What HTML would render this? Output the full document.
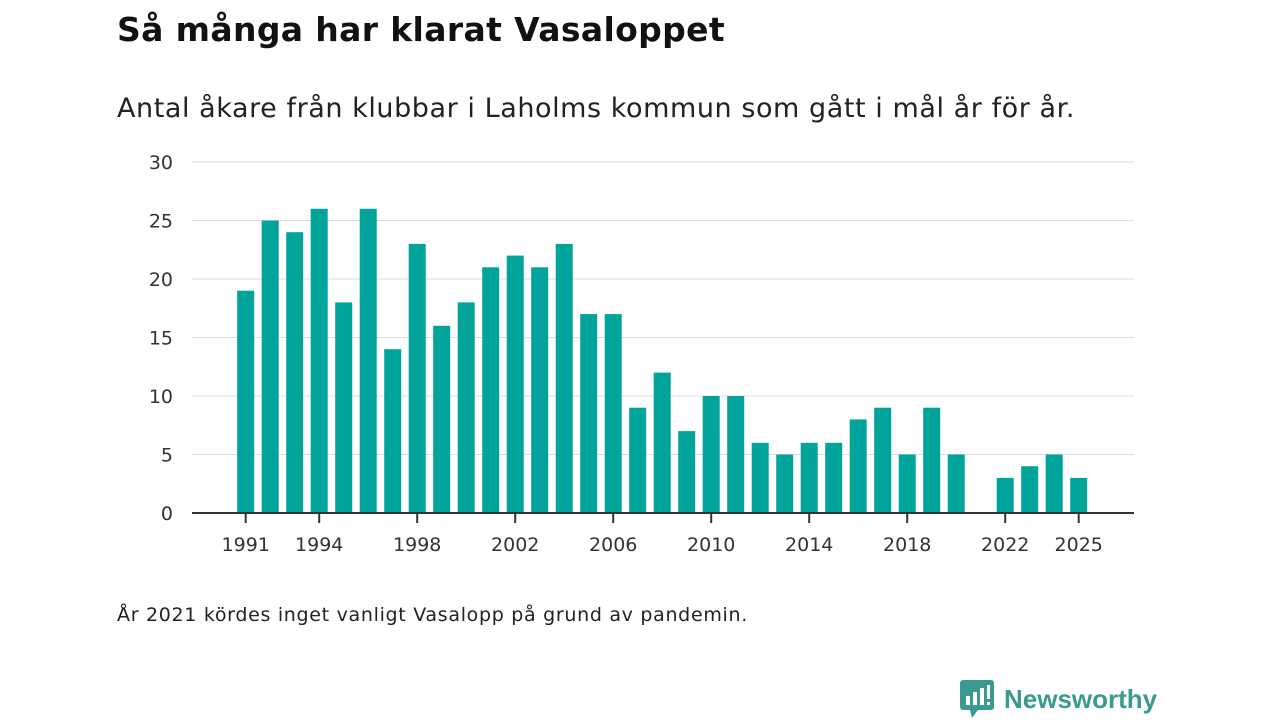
<!DOCTYPE html>
<html><head><meta charset="utf-8"><style>
body{margin:0;width:1280px;height:720px;background:#fff;font-family:"DejaVu Sans",sans-serif;position:relative;overflow:hidden;color:#111}
#title{position:absolute;left:117px;top:10px;font-size:33px;font-weight:bold;margin:0;white-space:nowrap}
#sub{position:absolute;left:117px;top:93px;font-size:27px;color:#222;white-space:nowrap}
#note{position:absolute;left:117px;top:604px;font-size:19px;color:#222;white-space:nowrap}
#logo{position:absolute;left:960px;top:680px;display:flex;align-items:center;gap:10px;color:#3a9a8f;font-size:26px;font-weight:bold;font-family:"Liberation Sans",sans-serif}
</style></head><body>
<h1 id="title">Så många har klarat Vasaloppet</h1>
<div id="sub">Antal åkare från klubbar i Laholms kommun som gått i mål år för år.</div>
<svg id="chart" width="1280" height="720" style="position:absolute;left:0;top:0"></svg>
<div id="note">År 2021 kördes inget vanligt Vasalopp på grund av pandemin.</div>
<div id="logo">
<svg width="34" height="38" viewBox="0 0 34 38"><rect x="0" y="0" width="34" height="30" rx="3" fill="#3a9a8f"/><polygon points="10,30 18,30 12,38" fill="#3a9a8f"/><rect x="6" y="16" width="4" height="9" fill="#fff"/><rect x="13" y="12" width="4" height="13" fill="#fff"/><rect x="20" y="8" width="4" height="17" fill="#fff"/><rect x="27" y="5" width="3" height="14" fill="#fff"/><rect x="27" y="22" width="3" height="3" fill="#fff"/></svg>
<span>Newsworthy</span></div>
<script>
const years=[1991,1992,1993,1994,1995,1996,1997,1998,1999,2000,2001,2002,2003,2004,2005,2006,2007,2008,2009,2010,2011,2012,2013,2014,2015,2016,2017,2018,2019,2020,2021,2022,2023,2024,2025];
const values=[19,25,24,26,18,26,14,23,16,18,21,22,21,23,17,17,9,12,7,10,10,6,5,6,6,8,9,5,9,5,null,3,4,5,3];
const yTicks=[0,5,10,15,20,25,30];
const xTicks=[1991,1994,1998,2002,2006,2010,2014,2018,2022,2025];
const NS="http://www.w3.org/2000/svg";
const svg=document.getElementById('chart');
const x=yr=>245.7+(yr-1991)*24.5;
const y=v=>513-v*(351/30);
function mk(t,a){const e=document.createElementNS(NS,t);for(const k in a)e.setAttribute(k,a[k]);svg.appendChild(e);return e;}
yTicks.forEach(v=>{
 if(v>0){const g=mk('line',{x1:192,x2:1134,y1:y(v),y2:y(v),stroke:'#ddd','stroke-width':1});
 
 }
 const t=mk('text',{x:173,y:y(v)+7,'text-anchor':'end','font-size':19,fill:'#333','font-family':'DejaVu Sans'});t.textContent=v;
 
 
});
years.forEach((yr,i)=>{if(values[i]==null)return;
 const r=mk('rect',{x:x(yr)-8.5,y:y(values[i]),width:17,height:513-y(values[i]),fill:'#00a49a'});
 
 
});
const ax=mk('line',{x1:192,x2:1134,y1:513,y2:513,stroke:'#333','stroke-width':2});


xTicks.forEach(yr=>{
 const tk=mk('line',{x1:x(yr),x2:x(yr),y1:513,y2:523,stroke:'#333','stroke-width':2});
 
 
 const t=mk('text',{x:x(yr),y:551,'text-anchor':'middle','font-size':19,fill:'#333','font-family':'DejaVu Sans'});t.textContent=yr;
 
 
});
function fit(id,w){const e=document.getElementById(id);const cur=e.getBoundingClientRect().width;const n=e.textContent.length;e.style.letterSpacing=((w-cur)/n)+'px';}
fit('title',608);fit('sub',958);fit('note',631);
</script>
</body></html>
